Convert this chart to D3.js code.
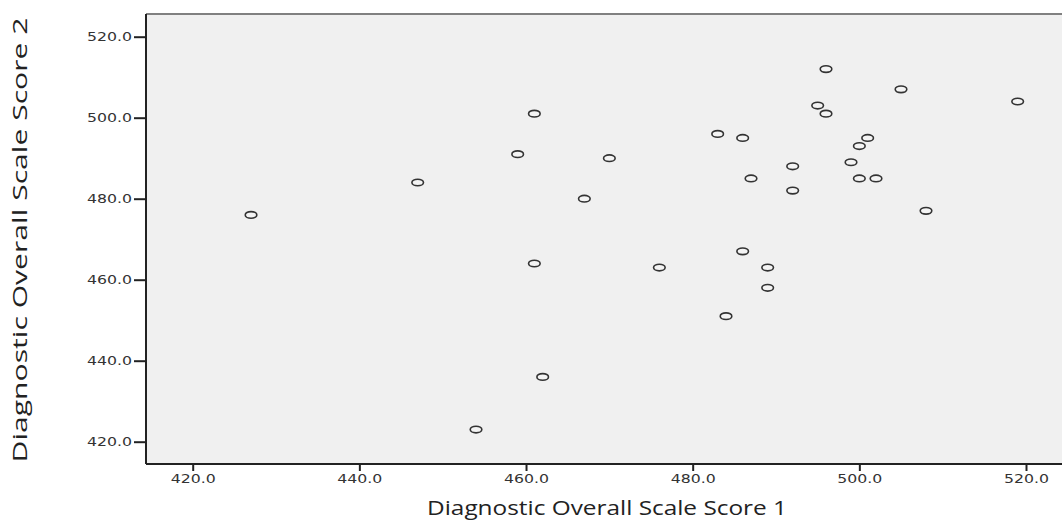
<!DOCTYPE html>
<html>
<head>
<meta charset="utf-8">
<script src="https://cdn.jsdelivr.net/npm/d3@7"></script>
<style>
  body { margin: 0; background: #fff; }
  svg { display: block; }
</style>
</head>
<body>
<svg class="chart"></svg>
<script>
// values
var scoreX = [427, 447, 461, 459, 470, 467, 483, 486, 487, 496, 505, 519, 495, 496, 501,
              500, 499, 492, 492, 500, 502, 508, 461, 476, 486, 484, 462, 454, 489, 489];
var scoreY = [476, 484, 501, 491, 490, 480, 496, 495, 485, 512, 507, 504, 503, 501, 495,
              493, 489, 488, 482, 485, 485, 477, 464, 463, 467, 451, 436, 423, 463, 458];
var xTicks = [420, 440, 460, 480, 500, 520];
var yTicks = [420, 440, 460, 480, 500, 520];
var xTitle = "Diagnostic Overall Scale Score 1";
var yTitle = "Diagnostic Overall Scale Score 2";

var canvasW = 1062;
var canvasH = 523;

var svg = d3.select(".chart")
  .attr("width", canvasW)
  .attr("height", canvasH);

// scales pinned on the tick positions
var x = d3.scaleLinear().domain([420, 520]).range([192.7, 1026]);
var y = d3.scaleLinear().domain([420, 520]).range([441.7, 36.7]);

var plotL = 146, plotT = 14, plotB = 464, plotR = 1075;

// plot background
svg.append("rect")
  .attr("x", plotL)
  .attr("y", plotT)
  .attr("width", plotR - plotL)
  .attr("height", plotB - plotT)
  .attr("fill", "#f0f0f0");

// frame
svg.append("line")
  .attr("x1", plotL).attr("x2", plotR)
  .attr("y1", plotT).attr("y2", plotT)
  .attr("stroke", "#808080").attr("stroke-width", 2);
svg.append("line")
  .attr("x1", plotL).attr("x2", plotL)
  .attr("y1", plotT).attr("y2", plotB)
  .attr("stroke", "#222").attr("stroke-width", 2);
svg.append("line")
  .attr("x1", plotL).attr("x2", plotR)
  .attr("y1", plotB).attr("y2", plotB)
  .attr("stroke", "#222").attr("stroke-width", 2);

var fmt = d3.format(".1f");

// y axis
var gy = svg.append("g")
  .attr("transform", "translate(" + plotL + ",0)")
  .call(d3.axisLeft(y).tickValues(yTicks).tickFormat(fmt).tickSize(12).tickPadding(2));
gy.select(".domain").remove();
gy.selectAll(".tick line").attr("stroke", "#222").attr("stroke-width", 2);
gy.selectAll(".tick text")
  .attr("font-family", "DejaVu Sans")
  .attr("font-size", 12)
  .attr("fill", "#333")
  .attr("textLength", 45)
  .attr("lengthAdjust", "spacingAndGlyphs");

// x axis
var gx = svg.append("g")
  .attr("transform", "translate(0," + plotB + ")")
  .call(d3.axisBottom(x).tickValues(xTicks).tickFormat(fmt).tickSize(7).tickPadding(3));
gx.select(".domain").remove();
gx.selectAll(".tick line").attr("stroke", "#222").attr("stroke-width", 2);
gx.selectAll(".tick text")
  .attr("font-family", "DejaVu Sans")
  .attr("font-size", 12)
  .attr("fill", "#333")
  .attr("textLength", 45)
  .attr("lengthAdjust", "spacingAndGlyphs");

// points
var points = scoreX.map(function(d, i){ return {x: d, y: scoreY[i]}; });
svg.selectAll("ellipse.point")
  .data(points)
  .enter()
  .append("ellipse")
  .attr("class", "point")
  .attr("cx", function(d){ return x(d.x); })
  .attr("cy", function(d){ return y(d.y); })
  .attr("rx", 5.8)
  .attr("ry", 3.3)
  .attr("fill", "#f4f4f4")
  .attr("stroke", "#333")
  .attr("stroke-width", 1.6);

// axis titles
svg.append("text")
  .attr("x", 607)
  .attr("y", 515)
  .attr("text-anchor", "middle")
  .attr("font-family", "Open Sans")
  .attr("font-size", 20)
  .attr("fill", "#222")
  .attr("textLength", 360)
  .attr("lengthAdjust", "spacingAndGlyphs")
  .text(xTitle);

svg.append("text")
  .attr("transform", "translate(27,240) rotate(-90)")
  .attr("text-anchor", "middle")
  .attr("font-family", "Open Sans")
  .attr("font-size", 20)
  .attr("fill", "#222")
  .attr("textLength", 445)
  .attr("lengthAdjust", "spacingAndGlyphs")
  .text(yTitle);
</script>
</body>
</html>
